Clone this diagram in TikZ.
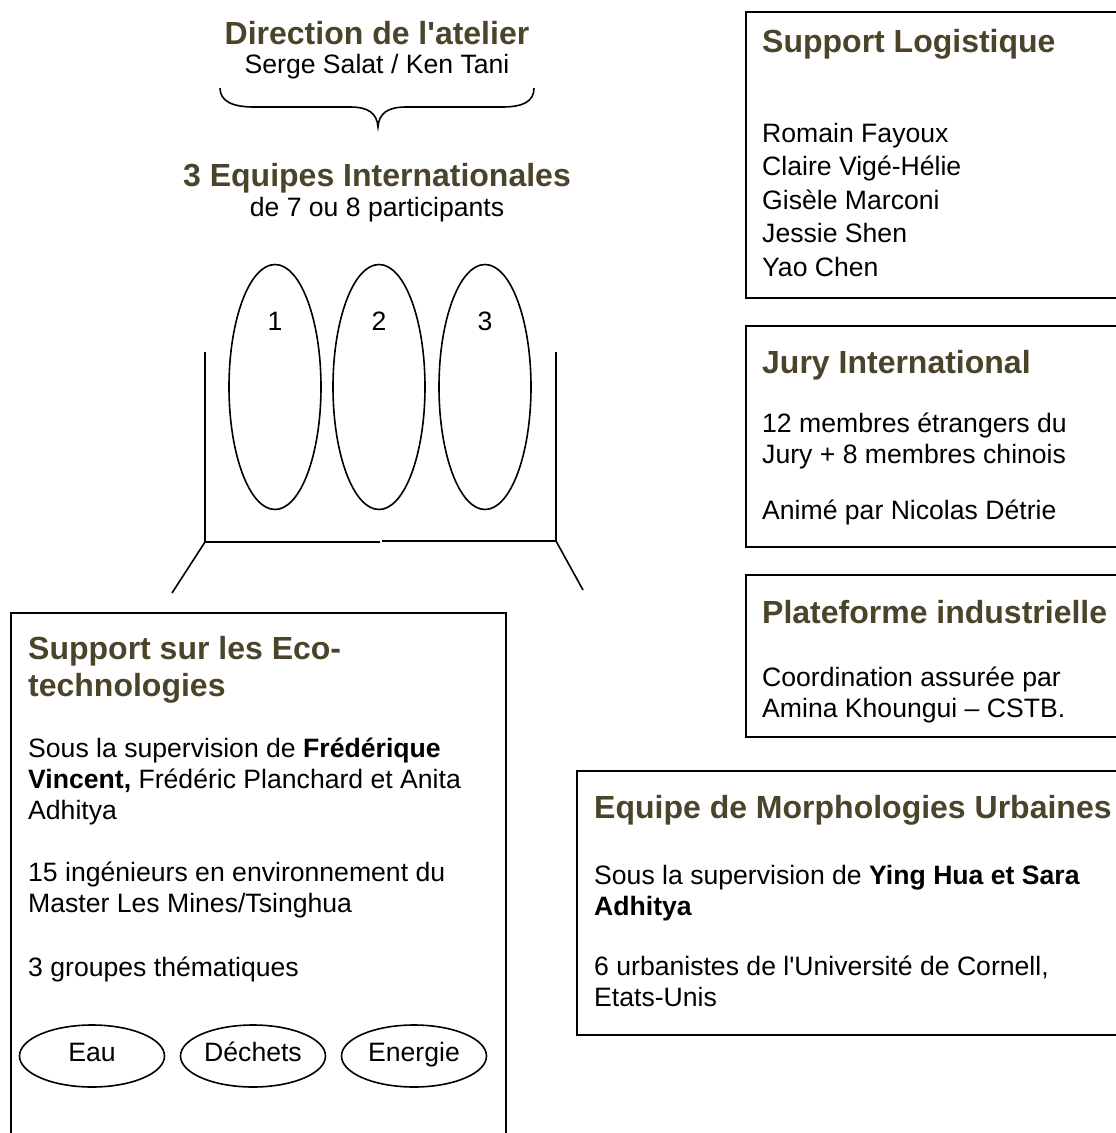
\documentclass[tikz,border=0pt]{standalone}
\usepackage{fontspec}
\setmainfont{Liberation Sans}
\usetikzlibrary{shapes.geometric, positioning, calc}
\definecolor{headOlive}{HTML}{4A452A}
\tikzset{
  frameline/.style={line width=2pt, black},
  thinline/.style={line width=1.6pt, black},
  headT/.style={anchor=base west, inner sep=0pt, align=left, text=headOlive,
                font=\bfseries\fontsize{32}{37}\selectfont},
  bodyT/.style={anchor=base west, inner sep=0pt, align=left,
                font=\fontsize{26.6}{30.6}\selectfont},
  listT/.style={bodyT, font=\fontsize{26.6}{33.5}\selectfont},
  teamE/.style={ellipse, draw, line width=1.6pt, minimum width=92pt,
                minimum height=245pt},
  themeE/.style={ellipse, draw, line width=1.6pt, inner sep=0pt,
                 minimum width=145pt, minimum height=62pt,
                 text height=19pt, text depth=8pt,
                 font=\fontsize{26.6}{30.6}\selectfont},
}
% multi-line nodes: the base anchor sits on the last line
\begin{document}
\begin{tikzpicture}[x=1pt, y=-1pt]
  \useasboundingbox (0,0) rectangle (1116,1133);

  % direction + brace
  \node[headT, anchor=base, align=center] (dir) at (377,44) {Direction de l\textquotesingle atelier};
  \node[bodyT, anchor=base, align=center] (dirnames) at (377,73) {Serge Salat / Ken Tani};
  \draw[thinline] (220,88) .. controls (220,101) and (232,107) .. (254,107)
    -- (350,107) .. controls (368,107) and (377,113) .. (378,127)
    .. controls (379,113) and (388,107) .. (406,107) -- (502,107)
    .. controls (524,107) and (534,101) .. (534,88);

  % teams
  \node[headT, anchor=base, align=center] (teams) at (377,186) {3 Equipes Internationales};
  \node[bodyT, anchor=base, align=center] (teamsize) at (377,216) {de 7 ou 8 participants};
  \foreach \n/\x in {1/275, 2/379, 3/485} {
    \node[teamE] (team\n) at (\x,387) {};
    \node[bodyT, anchor=base] (num\n) at (\x,330) {\n};
  }
  \coordinate (brLtop) at (205,352);
  \coordinate (brL) at (205,542);
  \coordinate (brRtop) at (556,352);
  \coordinate (brR) at (556,541);
  \draw[thinline] (brLtop) -- (brL) -- (380,542);
  \draw[thinline] (brRtop) -- (brR) -- (382,541);
  \draw[thinline] (brL) -- (172,593);
  \draw[thinline] (brR) -- (583,590);

  % right column
  \draw[frameline] (1130,12) -| (746,298) -- (1130,298);
  \node[headT] (logT) at (762,52) {Support Logistique};
  \node[listT] (logL) at (762,276) {Romain Fayoux\\Claire Vigé-Hélie\\Gisèle Marconi\\Jessie Shen\\Yao Chen};

  \draw[frameline] (1130,326) -| (746,547) -- (1130,547);
  \node[headT] (juryT) at (762,373) {Jury International};
  \node[bodyT] (juryA) at (762,463) {12 membres étrangers du\\Jury + 8 membres chinois};
  \node[bodyT] (juryB) at (762,519) {Animé par Nicolas Détrie};

  \draw[frameline] (1130,575) -| (746,737) -- (1130,737);
  \node[headT] (platT) at (762,623) {Plateforme industrielle};
  \node[bodyT] (platA) at (762,717) {Coordination assurée par\\Amina Khoungui -- CSTB.};

  \draw[frameline] (1130,771) -| (577,1035) -- (1130,1035);
  \node[headT] (morT) at (594,818) {Equipe de Morphologies Urbaines};
  \node[bodyT] (morA) at (594,915) {Sous la supervision de \textbf{Ying Hua et Sara}\\\textbf{Adhitya}};
  \node[bodyT] (morB) at (594,1006) {6 urbanistes de l\textquotesingle Université de Cornell,\\Etats-Unis};

  % left box
  \draw[frameline] (11,1140) |- (506,613) -- (506,1140);
  \node[headT] (ecoT) at (28,696) {Support sur les Eco-\\technologies};
  \node[bodyT] (ecoA) at (28,819) {Sous la supervision de \textbf{Frédérique}\\\textbf{Vincent,} Frédéric Planchard et Anita\\Adhitya};
  \node[bodyT] (ecoB) at (28,912) {15 ingénieurs en environnement du\\Master Les Mines/Tsinghua};
  \node[bodyT] (ecoC) at (28,976) {3 groupes thématiques};
  \node[themeE] (eau) at (92,1056) {Eau};
  \node[themeE] (dechets) at (253,1056) {Déchets};
  \node[themeE] (energie) at (414,1056) {Energie};
\end{tikzpicture}
\end{document}
